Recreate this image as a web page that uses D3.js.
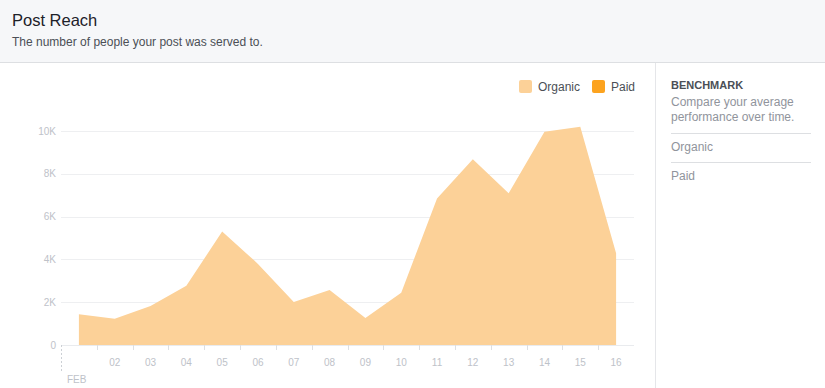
<!DOCTYPE html>
<html>
<head>
<meta charset="utf-8">
<script src="https://cdn.jsdelivr.net/npm/d3@7"></script>
<style>
  html, body { margin: 0; padding: 0; background: #fff; }
  svg { display: block; font-family: Helvetica, Arial, "Liberation Sans", sans-serif; }
</style>
</head>
<body>
<svg id="chart" width="825" height="388"></svg>
<script>
// ---- data ----
const days = ["01","02","03","04","05","06","07","08","09","10","11","12","13","14","15","16"];
const organic = [1435, 1230, 1820, 2770, 5300, 3790, 2010, 2570, 1260, 2440, 6850, 8680, 7090, 9970, 10200, 4290];
const yTicks = [0, 2000, 4000, 6000, 8000, 10000];
const monthLabel = "FEB";
const legendItems = ["Organic", "Paid"];
const legendColors = ["#fcd198", "#fca31f"];
const benchmarkItems = ["Organic", "Paid"];

const svg = d3.select("#chart");
const W = 825, H = 388;

// header
svg.append("rect").attr("x", 0).attr("y", 0).attr("width", W).attr("height", 62).attr("fill", "#f6f7f9");
svg.append("line").attr("x1", 0).attr("x2", W).attr("y1", 62.5).attr("y2", 62.5).attr("stroke", "#dddfe2");
svg.append("text").attr("x", 12).attr("y", 26).attr("font-size", 16.5).attr("fill", "#1d2129").text("Post Reach");
svg.append("text").attr("x", 12).attr("y", 46).attr("font-size", 12).attr("fill", "#4b4f56").text("The number of people your post was served to.");

// right panel
svg.append("line").attr("x1", 655.5).attr("x2", 655.5).attr("y1", 63).attr("y2", H).attr("stroke", "#e5e6e9");
svg.append("text").attr("x", 671).attr("y", 89).attr("font-size", 11).attr("font-weight", "bold").attr("fill", "#4b4f56").text("BENCHMARK");
svg.append("text").attr("x", 671).attr("y", 106).attr("font-size", 12).attr("fill", "#90949c").text("Compare your average");
svg.append("text").attr("x", 671).attr("y", 121).attr("font-size", 12).attr("fill", "#90949c").text("performance over time.");
benchmarkItems.forEach((t, i) => {
  const ly = 133.5 + i * 29;
  svg.append("line").attr("x1", 671).attr("x2", 811).attr("y1", ly).attr("y2", ly).attr("stroke", "#dddfe2");
  svg.append("text").attr("x", 671).attr("y", ly + 17).attr("font-size", 12).attr("fill", "#90949c").text(t);
});

// legend
const legX = [519, 592];
legendItems.forEach((t, i) => {
  svg.append("rect").attr("x", legX[i]).attr("y", 80).attr("width", 13).attr("height", 13).attr("rx", 2).attr("fill", legendColors[i]);
  svg.append("text").attr("x", legX[i] + 19).attr("y", 91).attr("font-size", 12).attr("fill", "#4b4f56").text(t);
});

// scales
const x = d3.scaleBand().domain(days).range([61, 634]);
const y = d3.scaleLinear().domain([0, 10000]).range([345, 131]);

// grid
svg.append("g").selectAll("line").data(yTicks.filter(d => d > 0)).join("line")
  .attr("x1", 61).attr("x2", 634)
  .attr("y1", d => Math.round(y(d)) + 0.5).attr("y2", d => Math.round(y(d)) + 0.5)
  .attr("stroke", "#eeeff1");

// y labels
svg.append("g").selectAll("text").data(yTicks).join("text")
  .attr("x", 56).attr("y", d => y(d)).attr("dy", "0.35em")
  .attr("text-anchor", "end").attr("font-size", 10).attr("fill", "#bec2c9")
  .text(d => d === 0 ? "0" : (d / 1000) + "K");

// area
const area = d3.area()
  .x((d, i) => x(days[i]) + x.bandwidth() / 2)
  .y0(y(0)).y1(d => y(d));
svg.append("path").datum(organic).attr("d", area).attr("fill", legendColors[0]);

// x axis line
svg.append("line").attr("x1", 61).attr("x2", 634).attr("y1", 345.5).attr("y2", 345.5).attr("stroke", "#e9ebee");
// ticks at band boundaries
svg.append("g").selectAll("line").data(days.slice(1)).join("line")
  .attr("x1", d => Math.round(x(d)) + 0.5).attr("x2", d => Math.round(x(d)) + 0.5)
  .attr("y1", 345).attr("y2", 350).attr("stroke", "#dddfe2");
// x labels
svg.append("g").selectAll("text").data(days.slice(1)).join("text")
  .attr("x", d => x(d) + x.bandwidth() / 2).attr("y", 366)
  .attr("text-anchor", "middle").attr("font-size", 10).attr("fill", "#bec2c9").text(d => d);
// first day: dashed marker and month label
svg.append("line").attr("x1", 61.5).attr("x2", 61.5).attr("y1", 345).attr("y2", 373)
  .attr("stroke", "#ccd0d5").attr("stroke-dasharray", "2,2");
svg.append("text").attr("x", 67).attr("y", 383).attr("font-size", 10).attr("fill", "#bec2c9").text(monthLabel);
</script>
</body>
</html>
